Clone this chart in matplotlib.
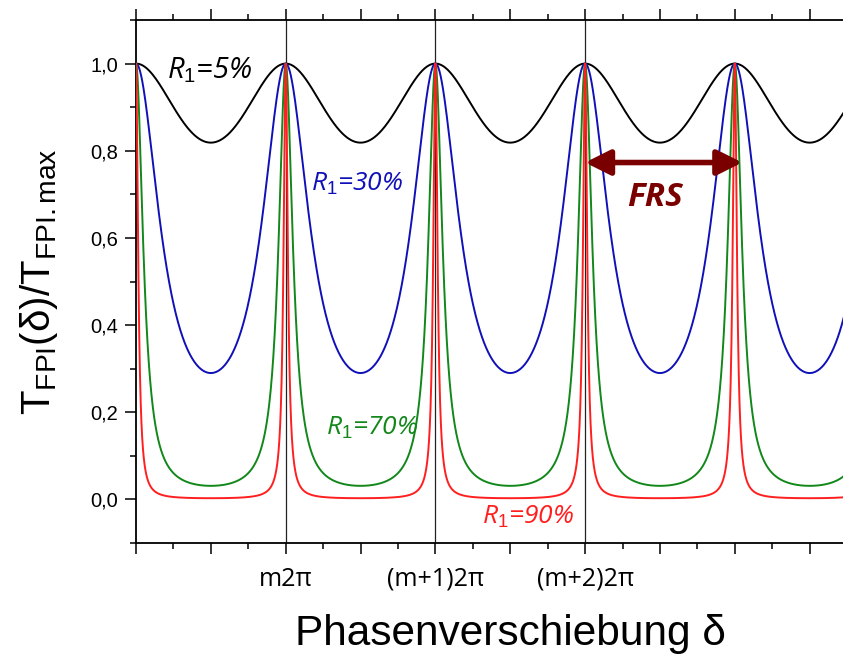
import numpy as np
import matplotlib.pyplot as plt
from matplotlib.ticker import MultipleLocator

plt.rcParams['mathtext.fontset'] = 'custom'
plt.rcParams['mathtext.rm'] = 'Liberation Sans'
plt.rcParams['mathtext.it'] = 'Open Sans:italic'
plt.rcParams['mathtext.bf'] = 'Open Sans:italic:bold'

# Spiegelreflektivitaeten der vier Kurven
reflect = [0.05, 0.30, 0.70, 0.90]
colors = ['black', '#1010b8', '#12871a', '#ff1f1f']
labels = [r'$\mathit{R_1}$=5%', r'$\mathit{R_1}$=30%', r'$\mathit{R_1}$=70%', r'$\mathit{R_1}$=90%']
label_pos = [(0.99, 0.985), (2.95, 0.725), (3.15, 0.165), (5.24, -0.041)]
label_size = [21, 19, 19, 19]

# Phase in Einheiten von pi
x_ticks = [2, 4, 6]
x_ticklabels = ['m2π', '(m+1)2π', '(m+2)2π']
y_ticks = [0.0, 0.2, 0.4, 0.6, 0.8, 1.0]

delta = np.linspace(0, 10, 4001)

fig = plt.figure(figsize=(8.43, 6.54), dpi=100)
ax = fig.add_axes([136/843, 1-543/654, 748.5/843, 523/654])

for R, c in zip(reflect, colors):
    F = 4*R/(1-R)**2
    T = 1/(1 + F*np.sin(np.pi*delta/2)**2)
    ax.plot(delta, T, color=c, lw=1.4, zorder=3)

for xv in x_ticks:
    ax.axvline(xv, color='#222222', lw=0.9, zorder=2)

ax.set_xlim(0, 10)
ax.set_ylim(-0.1, 1.1)

ax.xaxis.set_minor_locator(MultipleLocator(0.5))
ax.yaxis.set_minor_locator(MultipleLocator(0.1))
ax.set_xticks(np.arange(0, 11, 1))
ax.set_xticklabels(['' if t not in x_ticks else x_ticklabels[x_ticks.index(t)] for t in range(11)],
                   fontfamily='Open Sans', fontsize=18)
ax.set_yticks(y_ticks)
ax.set_yticklabels([f'{v:.1f}'.replace('.', ',') for v in y_ticks],
                   fontfamily='Liberation Sans', fontsize=14.5)

ax.tick_params(which='major', direction='out', length=8, width=1.1, top=True, pad=5)
ax.tick_params(which='minor', direction='out', length=4.5, width=1.1, top=True)
ax.tick_params(axis='x', which='both', labeltop=False, pad=9)
for s in ['left', 'bottom', 'top', 'right']:
    ax.spines[s].set_linewidth(1.3)

ax.set_xlabel('Phasenverschiebung δ', fontfamily='Liberation Sans', fontsize=30.5, labelpad=16)
ax.set_ylabel(r'T$_\mathrm{FPI}$(δ)/T$_\mathrm{FPI.max}$', fontfamily='Liberation Sans',
              fontsize=29, labelpad=22)

for lab, (lx, ly), c, fs in zip(labels, label_pos, colors, label_size):
    ax.text(lx, ly, lab, color=c, fontsize=fs, fontfamily='Open Sans', style='italic',
            ha='center', va='center', zorder=4)

ax.annotate('', xy=(8.1, 0.773), xytext=(6.0, 0.773),
            arrowprops=dict(arrowstyle='<|-|>', color='#7a0000', lw=4,
                            mutation_scale=38, shrinkA=0, shrinkB=0), zorder=5)
ax.text(6.93, 0.693, 'FRS', color='#7a0000', fontsize=24, fontfamily='Open Sans',
        style='italic', fontweight='bold', ha='center', va='center', zorder=5)

fig.savefig('out.png', dpi=100)
